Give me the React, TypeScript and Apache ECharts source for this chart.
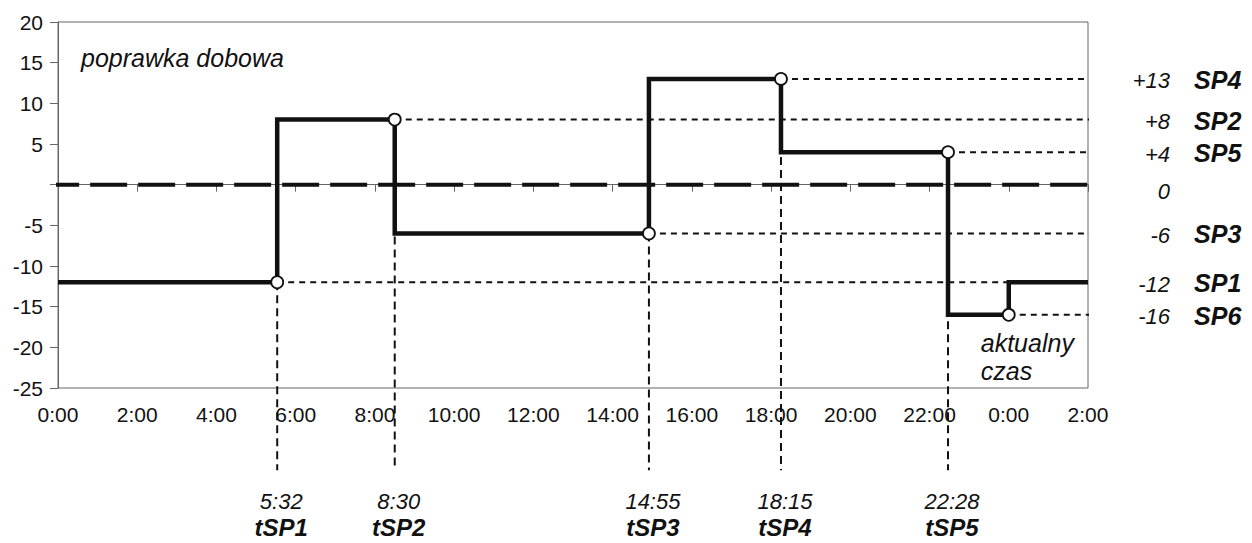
import React, { useEffect, useRef } from "react";
import * as echarts from "echarts";

// ---- data ----
const changeTimes = ["5:32", "8:30", "14:55", "18:15", "22:28"]; // tSP1..tSP5
const changeNames = ["tSP1", "tSP2", "tSP3", "tSP4", "tSP5"];
const levelValues = [-12, 8, -6, 13, 4, -16]; // SP1..SP6
const levelNames = ["SP1", "SP2", "SP3", "SP4", "SP5", "SP6"];
const currentHour = 24; // "aktualny czas" = 0:00 next day
const axisMaxHour = 26;
const yTicksMin = -25;
const yTicksMax = 20;

// ---- layout constants (axis units) ----
const GUIDE_RIGHT = 26.81;
const GUIDE_BOTTOM = -35.1;
const ZERO_LEFT = -0.4;
const ZERO_RIGHT = 26.93;

const FONT = '"Liberation Sans", Arial, sans-serif';
const INK = "#111";

const toHours = (s: string) => {
  const [h, m] = s.split(":").map(Number);
  return h + m / 60;
};

export default function App() {
  const ref = useRef<HTMLDivElement>(null);
  useEffect(() => {
    if (!ref.current) return;
    const chart = echarts.init(ref.current, null, { renderer: "svg" });
    const hours = changeTimes.map(toHours);

    const stepData: number[][] = [[0, levelValues[0]]];
    hours.forEach((h, i) => stepData.push([h, levelValues[i + 1]]));
    stepData.push([currentHour, levelValues[0]]);
    stepData.push([axisMaxHour, levelValues[0]]);

    const circles: number[][] = hours.map((h, i) => [h, levelValues[i]]);
    circles.push([currentHour, levelValues[5]]);

    const thinDash = { color: INK, width: 2, type: [6, 5] as any };
    const series: any[] = [];
    series.push({
      type: "line",
      data: [[ZERO_LEFT, 0], [ZERO_RIGHT, 0]],
      symbol: "none",
      clip: false,
      silent: true,
      z: 2,
      lineStyle: { color: INK, width: 4, type: [37, 11] },
    });
    circles.forEach((c) => {
      series.push({
        type: "line",
        data: [c, [GUIDE_RIGHT, c[1]]],
        symbol: "none",
        clip: false,
        silent: true,
        z: 2,
        lineStyle: thinDash,
      });
    });
    hours.forEach((h, i) => {
      series.push({
        type: "line",
        data: [[h, levelValues[i]], [h, GUIDE_BOTTOM]],
        symbol: "none",
        clip: false,
        silent: true,
        z: 2,
        lineStyle: { color: INK, width: 2, type: [8, 5] },
      });
    });
    series.push({
      type: "line",
      data: stepData,
      step: "end",
      symbol: "none",
      clip: false,
      silent: true,
      z: 3,
      lineStyle: { color: INK, width: 4.5, join: "miter" },
    });
    series.push({
      type: "scatter",
      data: circles,
      symbol: "circle",
      symbolSize: 12,
      clip: false,
      silent: true,
      z: 4,
      itemStyle: { color: "#fff", borderColor: INK, borderWidth: 1.8, opacity: 1 },
    });

    chart.setOption({
      animation: false,
      backgroundColor: "#fff",
      grid: {
        left: 58,
        top: 22,
        width: 1030,
        height: 366,
        containLabel: false,
        outerBoundsMode: "none",
        show: true,
        borderColor: "#666",
        borderWidth: 1,
      },
      xAxis: {
        type: "value",
        min: 0,
        max: axisMaxHour,
        interval: 2,
        axisLine: { show: true, lineStyle: { color: "#666", width: 1 } },
        axisTick: { show: true, length: 7, lineStyle: { color: "#666" } },
        splitLine: { show: false },
        axisLabel: {
          margin: 16,
          fontSize: 21,
          fontFamily: FONT,
          color: INK,
          formatter: (v: number) => `${v % 24}:00`,
        },
      },
      yAxis: {
        type: "value",
        min: yTicksMin,
        max: yTicksMax,
        interval: 5,
        axisLine: { show: true, lineStyle: { color: "#666", width: 1 } },
        axisTick: { show: true, length: 8, lineStyle: { color: "#666" } },
        splitLine: { show: false },
        axisLabel: {
          margin: 15,
          fontSize: 21,
          fontFamily: FONT,
          color: INK,
          formatter: (v: number) => (v === 0 ? "" : String(v)),
        },
      },
      series,
    });

    const px = (x: number, y: number) =>
      chart.convertToPixel({ gridIndex: 0 }, [x, y]) as number[];

    const graphics: any[] = [];
    const rightX = px(GUIDE_RIGHT, 0)[0];
    levelValues.forEach((v, i) => {
      const y = px(0, v)[1];
      graphics.push({
        type: "text",
        x: rightX + 50,
        y: y + 2,
        style: {
          text: v > 0 ? `+${v}` : String(v),
          fontSize: 22,
          fontStyle: "italic",
          fontFamily: FONT,
          fill: INK,
          align: "right",
          verticalAlign: "middle",
        },
      });
      graphics.push({
        type: "text",
        x: rightX + 74,
        y: y + 1,
        style: {
          text: levelNames[i],
          fontSize: 25,
          fontStyle: "italic",
          fontWeight: "bold",
          fontFamily: FONT,
          fill: INK,
          align: "left",
          verticalAlign: "middle",
        },
      });
    });
    graphics.push({
      type: "text",
      x: rightX + 50,
      y: px(0, 0)[1] + 7,
      style: {
        text: "0",
        fontSize: 22,
        fontStyle: "italic",
        fontFamily: FONT,
        fill: INK,
        align: "right",
        verticalAlign: "middle",
      },
    });
    const bottomY = px(0, GUIDE_BOTTOM)[1];
    hours.forEach((h, i) => {
      const x = px(h, 0)[0];
      graphics.push({
        type: "text",
        x: x + 4,
        y: bottomY + 31,
        style: {
          text: changeTimes[i],
          fontSize: 22,
          fontStyle: "italic",
          fontFamily: FONT,
          fill: INK,
          align: "center",
          verticalAlign: "middle",
        },
      });
      graphics.push({
        type: "text",
        x: x + 4,
        y: bottomY + 57,
        style: {
          text: changeNames[i],
          fontSize: 24,
          fontStyle: "italic",
          fontWeight: "bold",
          fontFamily: FONT,
          fill: INK,
          align: "center",
          verticalAlign: "middle",
        },
      });
    });
    const topLeft = px(0, yTicksMax);
    graphics.push({
      type: "text",
      x: topLeft[0] + 23,
      y: topLeft[1] + 36,
      style: {
        text: "poprawka dobowa",
        fontSize: 25,
        fontStyle: "italic",
        fontFamily: FONT,
        fill: INK,
        align: "left",
        verticalAlign: "middle",
      },
    });
    const cur = px(currentHour, levelValues[5]);
    graphics.push({
      type: "text",
      x: cur[0] - 28,
      y: cur[1] + 14,
      style: {
        text: "aktualny\nczas",
        fontSize: 25,
        lineHeight: 28,
        fontStyle: "italic",
        fontFamily: FONT,
        fill: INK,
        align: "left",
        verticalAlign: "top",
      },
    });
    chart.setOption({ graphic: graphics });

    return () => chart.dispose();
  }, []);
  return (
    <div
      ref={ref}
      style={{ position: "fixed", left: 0, top: 0, width: 1252, height: 543 }}
    />
  );
}
